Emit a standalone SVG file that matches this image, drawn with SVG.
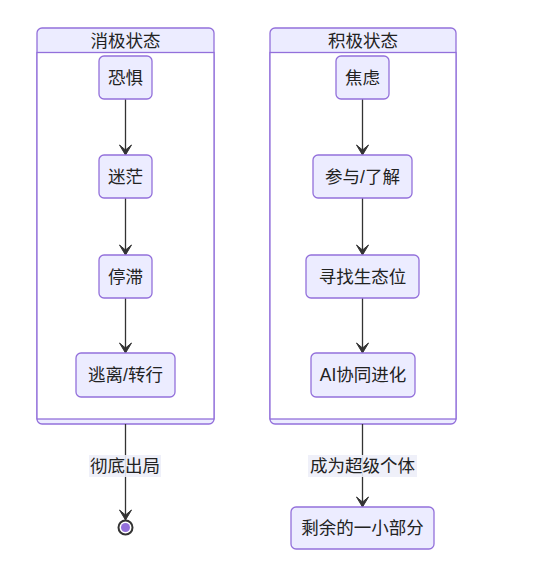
<svg xmlns="http://www.w3.org/2000/svg" width="541" height="586" viewBox="0 0 541 586">
<style>
.cl-outer{fill:#ECECFF;stroke:#9370DB;stroke-width:1.3}
.cl-inner{fill:#FFFFFF;stroke:#9370DB;stroke-width:1.3}
.node rect{fill:#ECECFF;stroke:#9370DB;stroke-width:1.3}
text{font-family:"trebuchet ms","Liberation Sans","Noto Sans CJK SC",sans-serif;font-size:17.5px;fill:#222;text-anchor:middle;dominant-baseline:central}
.edge{stroke:#333;stroke-width:1.3;fill:none}
.lblbg{fill:#EDEEF8;opacity:0.9}
</style>
<defs>
<marker id="barb" viewBox="0 0 20 14" refX="19" refY="7" markerWidth="20" markerHeight="14" markerUnits="userSpaceOnUse" orient="auto">
<path d="M19,7 L9,13 L14,7 L9,1 Z" fill="#333" stroke="#333" stroke-width="1"/>
</marker>
</defs>
<rect width="541" height="586" fill="#FFFFFF"/>
<g id="cluster-neg">
<rect class="cl-outer" x="37" y="28" width="177" height="396" rx="5"/>
<rect class="cl-inner" x="37" y="52.5" width="177" height="366.5"/>
<text x="125.5" y="41">消极状态</text>
</g>
<g id="cluster-pos">
<rect class="cl-outer" x="270" y="28" width="186" height="396" rx="5"/>
<rect class="cl-inner" x="270" y="52.5" width="186" height="366.5"/>
<text x="363" y="41">积极状态</text>
</g>
<g id="connectors">
<path class="edge" d="M125.5,99 L125.5,155" marker-end="url(#barb)"/>
<path class="edge" d="M125.5,198 L125.5,255" marker-end="url(#barb)"/>
<path class="edge" d="M125.5,298 L125.5,353" marker-end="url(#barb)"/>
<path class="edge" d="M125.5,424 L125.5,520" marker-end="url(#barb)"/>
<path class="edge" d="M362.5,99 L362.5,155" marker-end="url(#barb)"/>
<path class="edge" d="M362.5,198 L362.5,255" marker-end="url(#barb)"/>
<path class="edge" d="M362.5,298 L362.5,353" marker-end="url(#barb)"/>
<path class="edge" d="M362.5,424 L362.5,507" marker-end="url(#barb)"/>
<g id="label-out1">
<rect class="lblbg" x="89" y="455" width="72" height="22"/>
<text x="125" y="466">彻底出局</text>
</g>
<g id="label-out2">
<rect class="lblbg" x="308" y="455" width="109" height="22"/>
<text x="362.5" y="466">成为超级个体</text>
</g>
</g>
<g id="n-fear" class="node"><rect x="99" y="56" width="53" height="43" rx="5"/><text x="125.5" y="77.5">恐惧</text></g>
<g id="n-confused" class="node"><rect x="99" y="155" width="53" height="43" rx="5"/><text x="125.5" y="176.5">迷茫</text></g>
<g id="n-stagnant" class="node"><rect x="99" y="255" width="53" height="43" rx="5"/><text x="125.5" y="276.5">停滞</text></g>
<g id="n-escape" class="node"><rect x="76" y="353" width="99" height="44" rx="5"/><text x="125.5" y="375">逃离/转行</text></g>
<g id="n-end"><circle cx="125.5" cy="527.5" r="7" fill="#FFFFFF" stroke="#333" stroke-width="2"/><circle cx="125.5" cy="527.5" r="4.5" fill="#9370DB"/></g>
<g id="n-anxiety" class="node"><rect x="336" y="56" width="53" height="43" rx="5"/><text x="362.5" y="77.5">焦虑</text></g>
<g id="n-engage" class="node"><rect x="313" y="155" width="99" height="43" rx="5"/><text x="362.5" y="176.5">参与/了解</text></g>
<g id="n-niche" class="node"><rect x="306" y="255" width="113" height="43" rx="5"/><text x="362.5" y="276.5">寻找生态位</text></g>
<g id="n-ai" class="node"><rect x="311" y="353" width="104" height="44" rx="5"/><text x="363" y="375">AI协同进化</text></g>
<g id="n-remain" class="node"><rect x="291" y="507" width="143" height="42" rx="5"/><text x="362.5" y="528">剩余的一小部分</text></g>
</svg>
